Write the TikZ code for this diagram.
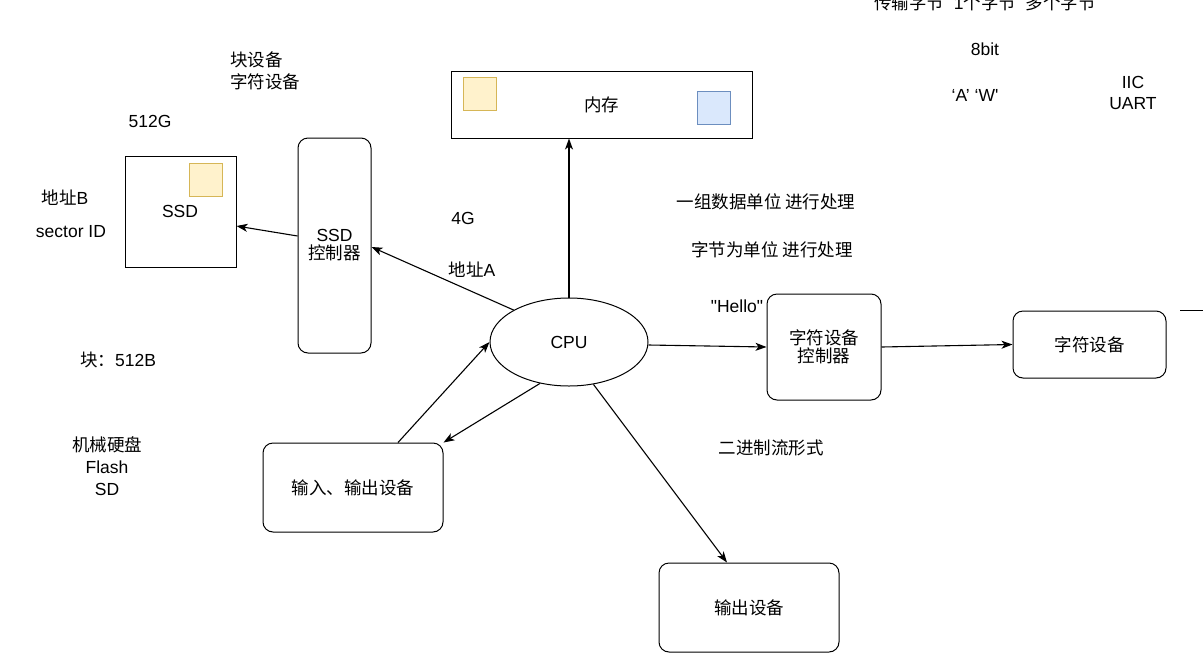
\documentclass[tikz,border=0pt]{standalone}
\usepackage{fontspec}
\setmainfont{Liberation Sans}
\newfontfamily\plainf{Liberation Sans}
\newfontfamily\cjk{Noto Sans CJK SC}
\usetikzlibrary{arrows.meta,shapes.geometric}
\definecolor{yf}{HTML}{FFF2CC}\definecolor{yd}{HTML}{D6B656}
\definecolor{bf}{HTML}{DAE8FC}\definecolor{bd}{HTML}{6C8EBF}
\begin{document}
\begin{tikzpicture}[x=1pt,y=-1pt,
  every node/.style={font=\fontsize{17.5}{20}\selectfont},
  box/.style={draw,line width=1pt,inner sep=0pt},
  rbox/.style={box,rounded corners=10pt},
  arr/.style={line width=1.1pt,-{Stealth[length=11pt,width=8pt,inset=3pt]}},
  sq/.style={line width=1pt,minimum size=33,inner sep=0},
  txt/.style={inner sep=0pt,align=center}]
\useasboundingbox (0,0) rectangle (1203,665);
% boxes
\node[box,minimum width=301,minimum height=67] (mem) at (601.5,104.5) {\cjk 内存};
\node[sq,draw=yd,fill=yf] (my) at (480,94) {};
\node[sq,draw=bd,fill=bf] (mb) at (713.5,107.5) {};
\node[box,minimum width=111,minimum height=111] (ssd) at (180.5,211.5) {};
\node[txt] (ssdt) at (180,211) {SSD};
\node[sq,draw=yd,fill=yf] (sy) at (206,180) {};
\node[rbox,minimum width=73,minimum height=215,align=center] (ctl) at (334.5,245.5) {SSD\\[-2pt]{\cjk 控制器}};
\node[draw,ellipse,line width=1pt,minimum width=158,minimum height=88] (cpu) at (569,342) {CPU};
\node[rbox,minimum width=114,minimum height=106,align=center] (cc) at (824,347) {{\cjk 字符设备}\\[-2pt]{\cjk 控制器}};
\node[rbox,minimum width=153,minimum height=67] (cd) at (1089.5,344.5) {\cjk 字符设备};
\node[rbox,minimum width=180,minimum height=89] (io) at (353,487.5) {\cjk 输入、输出设备};
\node[rbox,minimum width=180,minimum height=89] (out) at (749,607.5) {\cjk 输出设备};
% arrows
\draw[arr] (cpu.north) -- (cpu.north |- mem.south);
\draw[arr] (cpu.150) -- (ctl.east |- 0,247);
\draw[arr] (ctl.west |- 0,236) -- (ssd.east |- 0,226);
\draw[arr] (cpu.east |- 0,345) -- (cc.west);
\draw[arr] (cc.east) -- (cd.west);
\draw[arr] (cpu.300) -- (out.north -| 727,0);
\draw[arr] (io.north -| 398,0) -- (cpu.west);
\draw[arr] (cpu.235) -- (io.north east);
\coordinate (l1) at (1180,310); \coordinate (l2) at (1203,310);
\draw[line width=1pt] (l1) -- (l2);
% texts
\node[txt,anchor=west] (t1) at (230,60) {\cjk 块设备};
\node[txt,anchor=west] (t2) at (230,82) {\cjk 字符设备};
\node[txt] (t3) at (150,121) {512G};
\node[txt] (t4) at (65,198) {{\cjk 地址}B};
\node[txt] (t5) at (71,232) {sector ID};
\node[txt] (t6) at (118,360) {{\cjk 块：}512B};
\node[txt] (t7) at (107,445) {\cjk 机械硬盘};
\node[txt] (t8) at (107,467) {Flash};
\node[txt] (t9) at (107,489) {SD};
\node[txt] (t10) at (463,218) {4G};
\node[txt] (t11) at (472,270) {{\cjk 地址}A};
\node[txt] (t12) at (766,202) {\cjk 一组数据单位 进行处理};
\node[txt] (t13) at (772,250) {\cjk 字节为单位 进行处理};
\node[txt] (t14) at (737,306) {\plainf "Hello"};
\node[txt] (t15) at (771,448) {\cjk 二进制流形式};
\node[txt] (t16) at (985,3) {{\cjk 传输字节}\ \ 1{\cjk 个字节}\ \ {\cjk 多个字节}};
\node[txt] (t17) at (985,49) {8bit};
\node[txt] (t18) at (975,95) {\plainf ‘A’ ‘W'};
\node[txt] (t19) at (1133,82) {IIC};
\node[txt] (t20) at (1133,104) {UART};
\end{tikzpicture}
\end{document}
